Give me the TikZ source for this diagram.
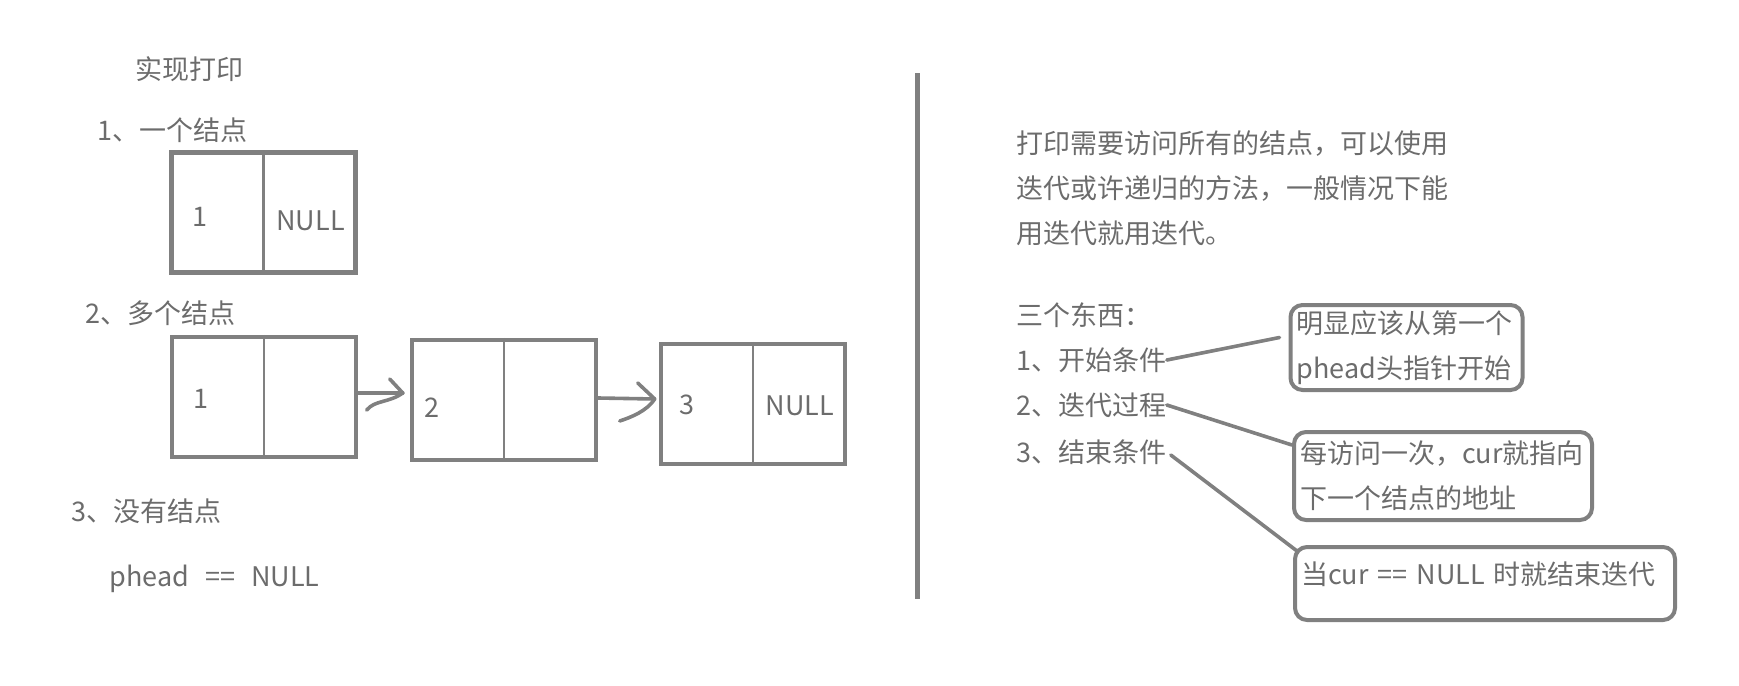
\documentclass[tikz,border=0pt]{standalone}
\usepackage{fontspec}
\setmainfont{Noto Sans CJK SC}
\definecolor{sketchgray}{RGB}{128,128,128}
\definecolor{notegray}{RGB}{108,108,108}
\usetikzlibrary{positioning,calc}

\begin{document}
\begin{tikzpicture}[x=0.5pt, y=-0.5pt,
    every node/.style={font=\fontsize{13.5}{22.5}\selectfont, text=notegray},
    txt/.style={anchor=west, inner sep=0pt, text height=11.5pt, text depth=1.2pt},
    val/.style={inner sep=0pt, text height=11.5pt, text depth=1.2pt},
    cell/.style={draw=sketchgray, line width=2.25pt, minimum width=92pt, minimum height=60pt, inner sep=0pt},
    divider/.style={draw=sketchgray, line width=1.2pt},
    link/.style={draw=sketchgray, line width=1.8pt, line cap=round, line join=round},
    callout/.style={draw=sketchgray, line width=2pt, rounded corners=6pt, align=left, inner xsep=3pt, inner ysep=0pt},
  ]
    \useasboundingbox (0,0) rectangle (1739,685);

    % Left half: printing the list
    \node[txt] (title) at (135,69) {实现打印};
    \node[txt] (case1) at (97,130) {1、一个结点};
    \node[cell] (single) at (263.5,212.5) {};
    \node[val] (singleval) at ($(single.west)+(31,4)$) {1};
    \node[val] (singlenext) at ($(single.center)!0.5!(single.east)+(0,8)$) {NULL};

    \node[txt] (case2) at (85,313) {2、多个结点};
    \node[cell] (first) at (264,397) {};
    \node[cell] (second) at (504,400) {};
    \node[cell] (third) at (753,404) {};
    \node[val] (firstval) at ($(first.west)+(31,1)$) {1};
    \node[val] (secondval) at ($(second.west)+(22,7)$) {2};
    \node[val] (thirdval) at ($(third.west)+(28,0)$) {3};
    \node[val] (thirdnext) at ($(third.center)!0.5!(third.east)+(0,1)$) {NULL};

    \foreach \n in {single,first,second,third}
      \draw[divider] (\n.north) -- (\n.south);

    % Hand drawn pointers
    \draw[link] ($(first.east)+(0,-4)$) -- ($(second.west)+(-7,-7)$) coordinate (tip1);
    \draw[link] ($(tip1)+(-13,-14)$) -- (tip1) .. controls +(-14,10) and +(8,-10) .. +(-36,17);
    \draw[link] ($(second.east)+(0,-2)$) -- ($(third.west)+(-4,-5)$) coordinate (tip2);
    \draw[link] ($(tip2)+(-17,-16)$) -- (tip2) .. controls +(-8,12) and +(12,-4) .. +(-35,22);

    \node[txt] (case3) at (71,511) {3、没有结点};
    \node[txt] (empty) at (109,576) {phead\hspace{5pt} == \hspace{5pt}NULL};

    % Separator
    \draw[sketchgray, line width=2.5pt] (917,73) -- (917,599);

    % Right half: notes
    \node[anchor=north west, align=left, inner sep=0pt] (intro) at (1016,130)
      {打印需要访问所有的结点，可以使用\\迭代或许递归的方法，一般情况下能\\用迭代就用迭代。};
    \node[txt] (things) at (1016,315) {三个东西：};
    \node[txt] (start) at (1016,360) {1、开始条件};
    \node[txt] (iterate) at (1016,405) {2、迭代过程};
    \node[txt] (finish) at (1016,452) {3、结束条件};

    \node[callout, minimum width=116pt, minimum height=42.5pt, text width=110pt] (hint1) at (1406.5,347.5)
      {明显应该从第一个\\phead头指针开始};
    \node[callout, minimum width=149pt, minimum height=44pt, text width=143pt] (hint2) at (1443,476)
      {每访问一次，cur就指向\\下一个结点的地址};
    \node[callout, minimum width=190pt, minimum height=36.5pt, text width=184pt, text height=18.5pt, text depth=18pt] (hint3) at (1485,583.5)
      {\mbox{当cur == NULL 时就结束迭代}};

    % Connecting lines
    \draw[link] (start.east) -- ($(hint1.west)+(-9,-10)$);
    \draw[link] (iterate.east) -- ($(hint2.north west)+(0,15)$);
    \draw[link] ($(finish.east)+(4,3)$) -- ($(hint3.north west)+(4,6)$);
  \end{tikzpicture}
\end{document}
